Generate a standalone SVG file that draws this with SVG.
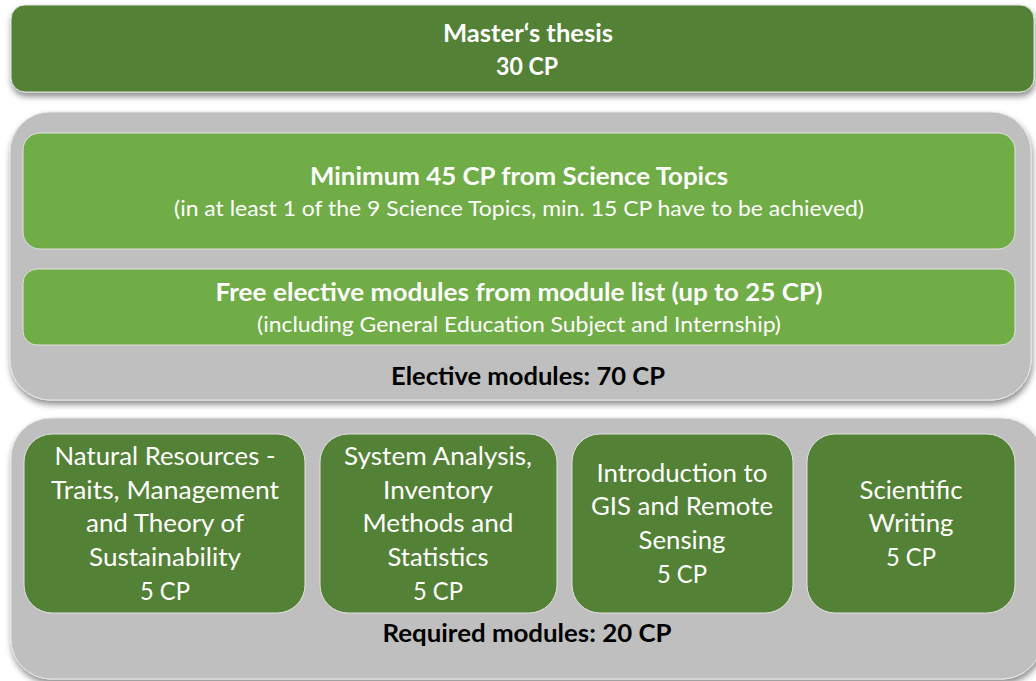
<svg xmlns="http://www.w3.org/2000/svg" width="1036" height="681" viewBox="0 0 1036 681">
  <defs>
    <filter id="shadow" x="-5%" y="-10%" width="110%" height="125%">
      <feDropShadow dx="1" dy="4" stdDeviation="3" flood-color="#000" flood-opacity="0.45"/>
    </filter>
    <style>
      text { font-family: Lato, "Open Sans", "Liberation Sans", sans-serif; text-anchor: middle; }
      .dark { fill: #538135; stroke: #e2e2e2; stroke-width: 1; }
      .light { fill: #70ad47; stroke: #e2e2e2; stroke-width: 1; }
      .gray { fill: #bfbfbf; stroke: #e6e6e6; stroke-width: 1; }
      .wb { fill: #ffffff; font-weight: bold; font-size: 25px; }
      .wr { fill: #ffffff; font-size: 25px; }
      .ws { fill: #ffffff; font-size: 21.5px; }
      .kb { fill: #000000; font-weight: bold; font-size: 25px; }
    </style>
  </defs>
  <rect width="1036" height="681" fill="#ffffff"/>

  <g id="thesis">
    <rect class="dark" x="11" y="5" width="1023" height="87" rx="14" filter="url(#shadow)"/>
    <text class="wb" x="528" y="42" textLength="170" lengthAdjust="spacingAndGlyphs">Master‘s thesis</text>
    <text class="wb" x="527" y="75" textLength="62" lengthAdjust="spacingAndGlyphs">30 CP</text>
  </g>

  <g id="elective">
    <rect class="gray" x="10" y="112" width="1021" height="288" rx="40" filter="url(#shadow)"/>
    <text class="kb" x="528" y="385" textLength="274" lengthAdjust="spacingAndGlyphs">Elective modules: 70 CP</text>
  </g>

  <g id="science-topics">
    <rect class="light" x="23" y="133" width="992" height="116" rx="17"/>
    <text class="wb" x="519" y="185" textLength="418" lengthAdjust="spacingAndGlyphs">Minimum 45 CP from Science Topics</text>
    <text class="ws" x="519" y="216" textLength="690" lengthAdjust="spacingAndGlyphs">(in at least 1 of the 9 Science Topics, min. 15 CP have to be achieved)</text>
  </g>

  <g id="free-elective">
    <rect class="light" x="23" y="269" width="992" height="76" rx="14"/>
    <text class="wb" x="519" y="301" textLength="607" lengthAdjust="spacingAndGlyphs">Free elective modules from module list (up to 25 CP)</text>
    <text class="ws" x="519" y="332" textLength="524" lengthAdjust="spacingAndGlyphs">(including General Education Subject and Internship)</text>
  </g>

  <g id="required">
    <rect class="gray" x="11" y="418" width="1031" height="261" rx="40" filter="url(#shadow)"/>
    <text class="kb" x="527" y="642" textLength="289" lengthAdjust="spacingAndGlyphs">Required modules: 20 CP</text>
  </g>

  <g id="natural-resources">
    <rect class="dark" x="24" y="434" width="281" height="179" rx="28"/>
    <text class="wr" x="165" y="465" textLength="221" lengthAdjust="spacingAndGlyphs">Natural Resources -</text>
    <text class="wr" x="165" y="499" textLength="228" lengthAdjust="spacingAndGlyphs">Traits, Management</text>
    <text class="wr" x="165" y="532" textLength="158" lengthAdjust="spacingAndGlyphs">and Theory of</text>
    <text class="wr" x="165" y="566" textLength="152" lengthAdjust="spacingAndGlyphs">Sustainability</text>
    <text class="wr" x="165" y="600" textLength="50" lengthAdjust="spacingAndGlyphs">5 CP</text>
  </g>

  <g id="system-analysis">
    <rect class="dark" x="320" y="434" width="237" height="179" rx="28"/>
    <text class="wr" x="438" y="465" textLength="188" lengthAdjust="spacingAndGlyphs">System Analysis,</text>
    <text class="wr" x="438" y="499" textLength="110" lengthAdjust="spacingAndGlyphs">Inventory</text>
    <text class="wr" x="438" y="532" textLength="151" lengthAdjust="spacingAndGlyphs">Methods and</text>
    <text class="wr" x="438" y="566" textLength="101" lengthAdjust="spacingAndGlyphs">Statistics</text>
    <text class="wr" x="438" y="600" textLength="50" lengthAdjust="spacingAndGlyphs">5 CP</text>
  </g>

  <g id="gis">
    <rect class="dark" x="572" y="434" width="221" height="179" rx="28"/>
    <text class="wr" x="682" y="482" textLength="171" lengthAdjust="spacingAndGlyphs">Introduction to</text>
    <text class="wr" x="682" y="515" textLength="182" lengthAdjust="spacingAndGlyphs">GIS and Remote</text>
    <text class="wr" x="682" y="549" textLength="87" lengthAdjust="spacingAndGlyphs">Sensing</text>
    <text class="wr" x="682" y="583" textLength="50" lengthAdjust="spacingAndGlyphs">5 CP</text>
  </g>

  <g id="scientific-writing">
    <rect class="dark" x="807" y="434" width="208" height="179" rx="28"/>
    <text class="wr" x="911" y="499" textLength="103" lengthAdjust="spacingAndGlyphs">Scientific</text>
    <text class="wr" x="911" y="532" textLength="85" lengthAdjust="spacingAndGlyphs">Writing</text>
    <text class="wr" x="911" y="566" textLength="50" lengthAdjust="spacingAndGlyphs">5 CP</text>
  </g>

  <g id="connectors"/>
</svg>
